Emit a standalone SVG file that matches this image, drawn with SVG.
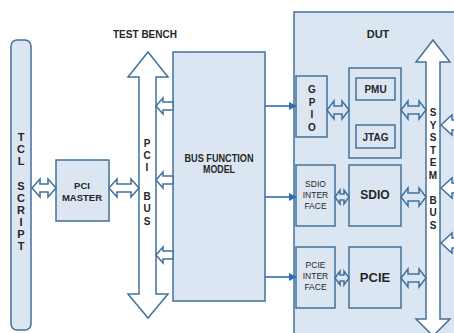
<svg xmlns="http://www.w3.org/2000/svg" width="454" height="333" viewBox="0 0 454 333">
<defs>
<style>
.box{fill:#dce6f2;stroke:#41719c;stroke-width:1.5}
.hol{fill:#ffffff;stroke:#41719c;stroke-width:1.5;stroke-linejoin:miter}
.hol2{fill:#dce6f2;stroke:#41719c;stroke-width:1.5;stroke-linejoin:miter}
.sol{stroke:#2e6db0;stroke-width:1.6;fill:none}
text{font-family:"Liberation Sans",Arial,sans-serif;fill:#262626;font-weight:bold;text-anchor:middle}
.t11{font-size:11px}
.t10{font-size:10px}
.t9{font-size:9.5px}
.ti{font-size:8.5px;font-weight:normal}
</style>
<marker id="ah" viewBox="0 0 10 10" refX="9" refY="5" markerWidth="8" markerHeight="8" markerUnits="userSpaceOnUse" orient="auto">
<path d="M0 0 L10 5 L0 10 Z" fill="#2e6db0"/>
</marker>
</defs>
<rect width="454" height="333" fill="#ffffff"/>

<g id="dut">
<rect x="294" y="12" width="170" height="330" class="box"/>
<text class="t11" x="378" y="38">DUT</text>
</g>

<text class="t11" x="145" y="38" textLength="64" lengthAdjust="spacingAndGlyphs">TEST BENCH</text>

<g id="tcl">
<rect x="11" y="40" width="20" height="290" rx="6" class="box"/>
<text class="t11" x="21" y="141">T</text>
<text class="t11" x="21" y="153">C</text>
<text class="t11" x="21" y="165">L</text>
<text class="t11" x="21" y="190">S</text>
<text class="t11" x="21" y="202">C</text>
<text class="t11" x="21" y="214">R</text>
<text class="t11" x="21" y="226">I</text>
<text class="t11" x="21" y="238">P</text>
<text class="t11" x="21" y="250">T</text>
</g>

<g id="pcimaster">
<rect x="56" y="160" width="53" height="61" class="box"/>
<text class="t9" x="82" y="189">PCI</text>
<text class="t9" x="82" y="201">MASTER</text>
</g>

<g id="pcibus">
<path class="hol" d="M148 52 L168 77 L156 77 L156 294 L168 294 L148 318 L128 294 L139 294 L139 77 L128 77 Z"/>
<text class="t10" x="147" y="147">P</text>
<text class="t10" x="147" y="159">C</text>
<text class="t10" x="147" y="171">I</text>
<text class="t10" x="147" y="200">B</text>
<text class="t10" x="147" y="212">U</text>
<text class="t10" x="147" y="225">S</text>
</g>

<g id="bfm">
<rect x="173" y="52" width="92" height="249" class="box"/>
<text class="t11" x="219" y="162" textLength="69" lengthAdjust="spacingAndGlyphs">BUS FUNCTION</text>
<text class="t11" x="219" y="173" textLength="32" lengthAdjust="spacingAndGlyphs">MODEL</text>
</g>

<g id="gpio">
<rect x="296" y="76" width="31" height="61" class="box"/>
<text class="t10" x="312" y="93">G</text>
<text class="t10" x="312" y="106">P</text>
<text class="t10" x="312" y="118">I</text>
<text class="t10" x="312" y="131">O</text>
</g>

<g id="pmujtag">
<rect x="349" y="68" width="52" height="90" class="box"/>
</g>
<g id="pmu">
<rect x="356" y="78" width="39" height="22" class="box"/>
<text class="t10" x="375.5" y="93">PMU</text>
</g>
<g id="jtag">
<rect x="356" y="125" width="39" height="23" class="box"/>
<text class="t10" x="375.5" y="141">JTAG</text>
</g>

<g id="sdioif">
<rect x="296" y="165" width="39" height="61" class="box"/>
<text class="ti" x="315.5" y="187">SDIO</text>
<text class="ti" x="315.5" y="198">INTER</text>
<text class="ti" x="315.5" y="209">FACE</text>
</g>
<g id="sdio">
<rect x="349" y="165" width="52" height="61" class="box"/>
<text x="375" y="199" style="font-size:12px">SDIO</text>
</g>

<g id="pcieif">
<rect x="296" y="247" width="39" height="61" class="box"/>
<text class="ti" x="315.5" y="268">PCIE</text>
<text class="ti" x="315.5" y="279">INTER</text>
<text class="ti" x="315.5" y="290">FACE</text>
</g>
<g id="pcie">
<rect x="349" y="247" width="52" height="61" class="box"/>
<text x="375" y="282" style="font-size:13px">PCIE</text>
</g>

<g id="sysbus">
<path class="hol" d="M433 40 L450 62 L440 62 L440 319 L450 319 L433 336 L416 319 L426 319 L426 62 L416 62 Z"/>
<text class="t10" x="433" y="116">S</text>
<text class="t10" x="433" y="128.5">Y</text>
<text class="t10" x="433" y="141">S</text>
<text class="t10" x="433" y="153.5">T</text>
<text class="t10" x="433" y="166">E</text>
<text class="t10" x="433" y="178.5">M</text>
<text class="t10" x="433" y="203.5">B</text>
<text class="t10" x="433" y="216">U</text>
<text class="t10" x="433" y="228.5">S</text>
</g>

<g id="connectors">
<path class="hol" d="M32 188 L40 179 L40 184 L48 184 L48 179 L56 188 L48 197 L48 192 L40 192 L40 197 Z"/>
<path class="hol" d="M109 188 L117 179 L117 184 L131 184 L131 179 L139 188 L131 197 L131 192 L117 192 L117 197 Z"/>
<path class="hol" d="M156 106 L163 98 L163 102 L173 102 L173 110 L163 110 L163 114 Z"/>
<path class="hol" d="M156 180 L163 172 L163 176 L173 176 L173 184 L163 184 L163 188 Z"/>
<path class="hol" d="M156 255 L163 247 L163 251 L173 251 L173 259 L163 259 L163 263 Z"/>
<line class="sol" x1="265" y1="106" x2="296" y2="106" marker-end="url(#ah)"/>
<line class="sol" x1="265" y1="197" x2="296" y2="197" marker-end="url(#ah)"/>
<line class="sol" x1="265" y1="277" x2="296" y2="277" marker-end="url(#ah)"/>
<path class="hol2" d="M327 110 L334 101 L334 106 L342 106 L342 101 L349 110 L342 119 L342 114 L334 114 L334 119 Z"/>
<path class="hol2" d="M401 110 L408 101 L408 106 L419 106 L419 101 L426 110 L419 119 L419 114 L408 114 L408 119 Z"/>
<path class="hol2" d="M335 197 L340 190 L340 194 L344 194 L344 190 L349 197 L344 204 L344 200 L340 200 L340 204 Z"/>
<path class="hol2" d="M401 197 L408 188 L408 193 L419 193 L419 188 L426 197 L419 206 L419 201 L408 201 L408 206 Z"/>
<path class="hol2" d="M335 278 L340 271 L340 275 L344 275 L344 271 L349 278 L344 285 L344 281 L340 281 L340 285 Z"/>
<path class="hol2" d="M401 278 L408 269 L408 274 L419 274 L419 269 L426 278 L419 287 L419 282 L408 282 L408 287 Z"/>
<path class="hol" d="M441 125 L452 115 L452 120 L460 120 L460 130 L452 130 L452 135 Z"/>
<path class="hol" d="M441 188 L452 178 L452 183 L460 183 L460 193 L452 193 L452 198 Z"/>
<path class="hol" d="M441 243 L452 233 L452 238 L460 238 L460 248 L452 248 L452 253 Z"/>
</g>
</svg>
